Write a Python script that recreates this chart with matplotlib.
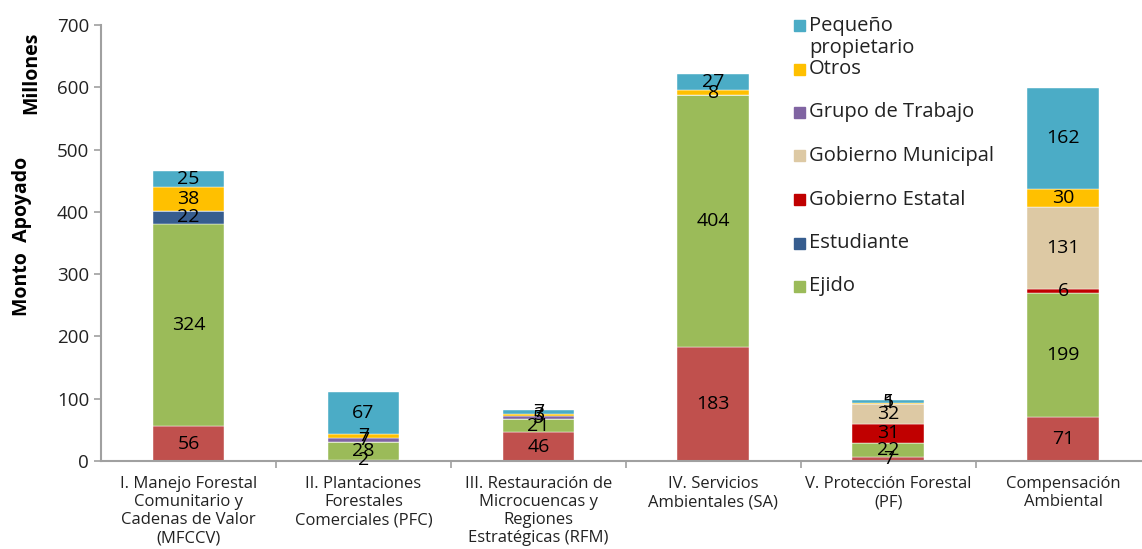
import matplotlib.pyplot as plt
from matplotlib.patches import Rectangle
import numpy as np

plt.rcParams['font.family'] = ['Open Sans', 'DejaVu Sans']

# categorias del eje x
categorias = ['I. Manejo Forestal\nComunitario y\nCadenas de Valor\n(MFCCV)',
              'II. Plantaciones\nForestales\nComerciales (PFC)',
              'III. Restauración de\nMicrocuencas y\nRegiones\nEstratégicas (RFM)',
              'IV. Servicios\nAmbientales (SA)',
              'V. Protección Forestal\n(PF)',
              'Compensación\nAmbiental']

# montos apoyados (millones), de abajo hacia arriba
comunidad = [56, 2, 46, 183, 7, 71]
ejido = [324, 28, 21, 404, 22, 199]
estudiante = [22, 0, 0, 0, 0, 0]
gob_estatal = [0, 0, 0, 0, 31, 6]
gob_municipal = [0, 0, 0, 0, 32, 131]
grupo_trabajo = [0, 7, 5, 0, 0, 0]
otros = [38, 7, 3, 8, 1, 30]
pequeno = [25, 67, 7, 27, 5, 162]

series = [('Comunidad', comunidad, '#C0504D'),
          ('Ejido', ejido, '#9BBB59'),
          ('Estudiante', estudiante, '#375D8F'),
          ('Gobierno Estatal', gob_estatal, '#C00000'),
          ('Gobierno Municipal', gob_municipal, '#DDC9A4'),
          ('Grupo de Trabajo', grupo_trabajo, '#8064A2'),
          ('Otros', otros, '#FFC000'),
          ('Pequeño\npropietario', pequeno, '#4BACC6')]

W, H = 1142, 549
fig = plt.figure(figsize=(W / 100, H / 100), dpi=100)
ax = fig.add_axes([101 / W, (H - 461) / H, (W - 101) / W, (461 - 25) / H])

x = np.arange(len(categorias))
base = np.zeros(len(categorias))
for nombre, vals, color in series:
    vals = np.array(vals, dtype=float)
    ax.bar(x, vals, 0.41, bottom=base, color=color, edgecolor='white', linewidth=0.3)
    for xi, b, v in zip(x, base, vals):
        if v > 0:
            ax.text(xi, b + v / 2, f'{int(v)}', ha='center', va='center',
                    fontsize=14, color='black')
    base += vals

ax.set_xlim(-0.5, 5.45)
ax.set_ylim(0, 700)
ax.set_yticks(range(0, 701, 100))
ax.set_xticks(x)
ax.set_xticklabels(categorias, fontsize=12, color='#222222', linespacing=1.17)
ax.set_xticks(np.arange(0.5, 5, 1), minor=True)
ax.tick_params(axis='x', which='major', length=0, pad=11)
ax.tick_params(axis='x', which='minor', length=5, color='#A0A0A0', width=1.2)
ax.tick_params(axis='y', labelsize=13.5, colors='#222222', length=5, width=1.2)
ax.tick_params(axis='y', color='#A0A0A0')
for s in ['top', 'right']:
    ax.spines[s].set_visible(False)
for s in ['left', 'bottom']:
    ax.spines[s].set_color('#A0A0A0')
    ax.spines[s].set_linewidth(1.5)

fig.text(31 / W, 1 - 73 / H, 'Millones', rotation=90, ha='center', va='center',
         fontsize=14, fontweight='bold')
fig.text(22 / W, 1 - 236 / H, 'Monto  Apoyado', rotation=90, ha='center', va='center',
         fontsize=14, fontweight='bold')

# leyenda (sin Comunidad), espaciado uniforme
ley = [s for s in series[::-1] if s[0] != 'Comunidad']
for i, (nombre, vals, color) in enumerate(ley):
    yc = 25.5 + i * 43.5
    fig.add_artist(Rectangle((794 / W, 1 - (yc + 5.5) / H), 11 / W, 11 / H,
                             color=color, transform=fig.transFigure))
    for j, linea in enumerate(nombre.split('\n')):
        fig.text(809 / W, 1 - (yc + 22 * j) / H, linea, ha='left', va='center',
                 fontsize=14.5, color='#222222')

fig.savefig('out.png', dpi=100)
